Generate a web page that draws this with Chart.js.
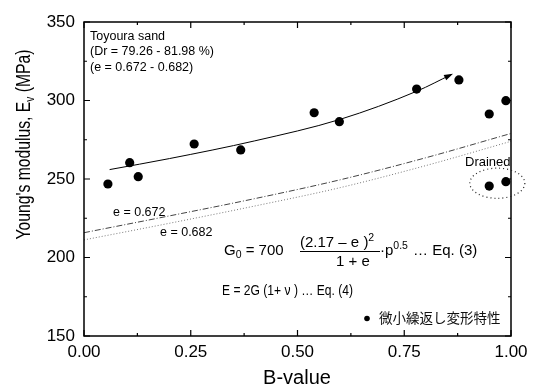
<!DOCTYPE html>
<html lang="ja">
<head>
<meta charset="utf-8">
<title>Young's modulus vs B-value</title>
<script src="https://cdn.jsdelivr.net/npm/chart.js@4.4.1/dist/chart.umd.min.js"></script>
<style>
  html, body { margin: 0; padding: 0; background: #fff; }
  #contenedor { width: 535px; height: 385px; position: relative; }
</style>
</head>
<body>
<div id="contenedor"><canvas id="miGrafico"></canvas></div>
<script>
// ===============================
// Datos
// ===============================
const valoresB = [0.056, 0.107, 0.127, 0.258, 0.367, 0.539, 0.598, 0.779, 0.878, 0.949, 0.988];
const moduloE = [246.8, 260.4, 251.5, 272.3, 268.5, 292.2, 286.5, 307.3, 313.1, 291.4, 299.9];

// Ensayos drenados (dentro de la elipse)
const drenadoB = [0.949, 0.988];
const drenadoE = [245.5, 248.3];

// Curva de tendencia con flecha
const ajusteB = [0.06, 0.2, 0.4, 0.6, 0.78, 0.86];
const ajusteE = [256, 263, 274.3, 288, 306, 316.5];

// Curvas teóricas Eq. (3)-(4)
const teoricoB = [0, 0.2, 0.4, 0.6, 0.8, 1.0];
const teorico672 = [215.8, 226.5, 237.5, 249.5, 263.5, 279];
const teorico682 = [211.2, 221.8, 232.8, 244.5, 258.5, 274];

// Marcas de los ejes
const ticksX = [0, 0.25, 0.5, 0.75, 1];
const ticksY = [150, 200, 250, 300, 350];

// Elipse "Drained" (centro y radios en unidades de datos)
const elipseCentro = [0.968, 247.3];
const elipseRadio = [0.0644, 9.6];

const FUENTE = '"Liberation Sans", Arial, sans-serif';

function puntos(xs, ys) {
  return xs.map((x, i) => ({ x: x, y: ys[i] }));
}

function menores(lista) {
  const res = [];
  for (let i = 0; i < lista.length - 1; i++) res.push((lista[i] + lista[i + 1]) / 2);
  return res;
}

// ===============================
// Plugin: marco, marcas, flecha, elipse y textos
// ===============================
const decoracion = {
  id: 'decoracion',
  afterDraw(chart) {
    const ctx = chart.ctx;
    const area = chart.chartArea;
    const sx = chart.scales.x;
    const sy = chart.scales.y;

    ctx.save();
    ctx.strokeStyle = '#000';
    ctx.fillStyle = '#000';

    // Marco
    ctx.lineWidth = 1.5;
    ctx.strokeRect(area.left, area.top, area.right - area.left, area.bottom - area.top);

    // Marcas hacia dentro en los cuatro lados
    ctx.lineWidth = 1.2;
    const marcaX = (v, largo) => {
      const px = sx.getPixelForValue(v);
      ctx.beginPath();
      ctx.moveTo(px, area.bottom); ctx.lineTo(px, area.bottom - largo);
      ctx.moveTo(px, area.top); ctx.lineTo(px, area.top + largo);
      ctx.stroke();
    };
    const marcaY = (v, largo) => {
      const py = sy.getPixelForValue(v);
      ctx.beginPath();
      ctx.moveTo(area.left, py); ctx.lineTo(area.left + largo, py);
      ctx.moveTo(area.right, py); ctx.lineTo(area.right - largo, py);
      ctx.stroke();
    };
    ticksX.forEach(v => marcaX(v, 6));
    menores(ticksX).forEach(v => marcaX(v, 3));
    ticksY.forEach(v => marcaY(v, 6));
    menores(ticksY).forEach(v => marcaY(v, 3));

    // Punta de flecha al final de la curva de tendencia
    const n = ajusteB.length;
    const x1 = sx.getPixelForValue(ajusteB[n - 2]), y1 = sy.getPixelForValue(ajusteE[n - 2]);
    const x2 = sx.getPixelForValue(ajusteB[n - 1]), y2 = sy.getPixelForValue(ajusteE[n - 1]);
    const ang = Math.atan2(y2 - y1, x2 - x1);
    ctx.save();
    ctx.translate(x2, y2);
    ctx.rotate(ang);
    ctx.beginPath();
    ctx.moveTo(2, 0);
    ctx.lineTo(-7, -3);
    ctx.lineTo(-7, 3);
    ctx.closePath();
    ctx.fill();
    ctx.restore();

    // Elipse punteada
    const cx = sx.getPixelForValue(elipseCentro[0]);
    const cy = sy.getPixelForValue(elipseCentro[1]);
    const rx = Math.abs(sx.getPixelForValue(elipseCentro[0] + elipseRadio[0]) - cx);
    const ry = Math.abs(sy.getPixelForValue(elipseCentro[1] + elipseRadio[1]) - cy);
    ctx.save();
    ctx.setLineDash([1, 3]);
    ctx.lineWidth = 1.2;
    ctx.strokeStyle = '#222';
    ctx.beginPath();
    ctx.ellipse(cx, cy, rx, ry, 0, 0, Math.PI * 2);
    ctx.stroke();
    ctx.restore();

    // Textos
    const texto = (t, x, y, tam, ancho, alinear) => {
      ctx.font = tam + 'px ' + FUENTE;
      ctx.textAlign = alinear || 'left';
      ctx.textBaseline = 'alphabetic';
      if (ancho) ctx.fillText(t, x, y, ancho); else ctx.fillText(t, x, y);
      const w = ctx.measureText(t).width;
      return ancho ? Math.min(w, ancho) : w;
    };

    texto('Toyoura sand', 90, 39.5, 12.5);
    texto('(Dr = 79.26 - 81.98 %)', 90, 55, 12.5);
    texto('(e = 0.672 - 0.682)', 90, 71, 12.5);

    texto('e = 0.672', 113, 216, 12.5);
    texto('e = 0.682', 160, 235.5, 12.5);
    texto('Drained', 465, 166, 13);

    // Eq. (3)
    let x = 224;
    x += texto('G', x, 254.5, 15);
    x += texto('0', x, 258, 10.5);
    texto(' = 700', x, 254.5, 15);
    const wNum = texto('(2.17 \u2013 e )', 300, 247, 15);
    texto('2', 300 + wNum, 241, 10.5);
    ctx.lineWidth = 1;
    ctx.beginPath();
    ctx.moveTo(300, 251.5); ctx.lineTo(380, 251.5);
    ctx.stroke();
    texto('1 + e', 353, 266, 15, null, 'center');
    x = 380;
    x += texto('\u00b7p', x, 254.5, 15);
    x += texto('0.5', x, 248.5, 10.5);
    texto(' \u2026 Eq. (3)', x + 1, 254.5, 15, 70);

    // Eq. (4)
    texto('E = 2G (1+ \u03bd ) \u2026 Eq. (4)', 222, 294.5, 15, 131);

    // Leyenda
    ctx.beginPath();
    ctx.arc(367, 318.5, 2.8, 0, Math.PI * 2);
    ctx.fill();
    ctx.font = '13.5px "Noto Sans CJK JP", sans-serif';
    ctx.textAlign = 'left';
    ctx.fillStyle = '#111';
    ctx.fillText('微小繰返し変形特性', 379, 323, 128);
    ctx.fillStyle = '#000';

    // Título eje X
    texto('B-value', 297, 384, 20, null, 'center');

    // Título eje Y con subíndice
    ctx.save();
    ctx.translate(23, 144.5);
    ctx.rotate(-Math.PI / 2);
    const a = "Young's modulus, E", b = 'v', c = ' (MPa)';
    ctx.font = '20px ' + FUENTE;
    const wa = ctx.measureText(a).width, wc = ctx.measureText(c).width;
    ctx.font = '13px ' + FUENTE;
    const wb = ctx.measureText(b).width;
    const total = wa + wb + wc;
    const esc = Math.min(1, 190 / total);
    ctx.scale(esc, 1);
    let p = -total / 2;
    ctx.textAlign = 'left';
    ctx.textBaseline = 'alphabetic';
    ctx.font = '20px ' + FUENTE;
    ctx.fillText(a, p, 7); p += wa;
    ctx.font = '13px ' + FUENTE;
    ctx.fillText(b, p, 11); p += wb;
    ctx.font = '20px ' + FUENTE;
    ctx.fillText(c, p, 7);
    ctx.restore();

    ctx.restore();
  }
};

// ===============================
// Configurar gráfico
// ===============================
document.addEventListener('DOMContentLoaded', function () {
  const ctx = document.getElementById('miGrafico').getContext('2d');
  new Chart(ctx, {
    type: 'scatter',
    data: {
      datasets: [
        {
          label: 'Medido',
          data: puntos(valoresB, moduloE),
          backgroundColor: '#000',
          borderWidth: 0,
          pointRadius: 4.6,
          clip: false
        },
        {
          label: 'Drained',
          data: puntos(drenadoB, drenadoE),
          backgroundColor: '#000',
          borderWidth: 0,
          pointRadius: 4.6,
          clip: false
        },
        {
          label: 'Tendencia',
          data: puntos(ajusteB, ajusteE),
          showLine: true,
          pointRadius: 0,
          borderColor: '#000',
          borderWidth: 1,
          cubicInterpolationMode: 'monotone'
        },
        {
          label: 'e = 0.672',
          data: puntos(teoricoB, teorico672),
          showLine: true,
          pointRadius: 0,
          borderColor: '#444',
          borderWidth: 1,
          borderDash: [6, 2, 1, 2],
          cubicInterpolationMode: 'monotone'
        },
        {
          label: 'e = 0.682',
          data: puntos(teoricoB, teorico682),
          showLine: true,
          pointRadius: 0,
          borderColor: '#777',
          borderWidth: 1,
          borderDash: [1, 2],
          cubicInterpolationMode: 'monotone'
        }
      ]
    },
    options: {
      responsive: true,
      maintainAspectRatio: false,
      animation: false,
      layout: { padding: { top: 22, right: 24, left: 0, bottom: 0 } },
      plugins: {
        legend: { display: false },
        tooltip: { enabled: false }
      },
      scales: {
        x: {
          type: 'linear',
          min: 0,
          max: 1,
          afterBuildTicks: s => { s.ticks = ticksX.map(v => ({ value: v })); },
          afterFit: s => { s.height = 49; },
          ticks: {
            callback: v => v.toFixed(2),
            font: { family: FUENTE, size: 17 },
            color: '#000',
            padding: 6,
            maxRotation: 0
          },
          grid: { display: false, drawTicks: false },
          border: { display: false }
        },
        y: {
          type: 'linear',
          min: 150,
          max: 350,
          afterBuildTicks: s => { s.ticks = ticksY.map(v => ({ value: v })); },
          afterFit: s => { s.width = 84; },
          ticks: {
            font: { family: FUENTE, size: 17 },
            color: '#000',
            padding: 9
          },
          grid: { display: false, drawTicks: false },
          border: { display: false }
        }
      }
    },
    plugins: [decoracion]
  });
});
</script>
</body>
</html>
